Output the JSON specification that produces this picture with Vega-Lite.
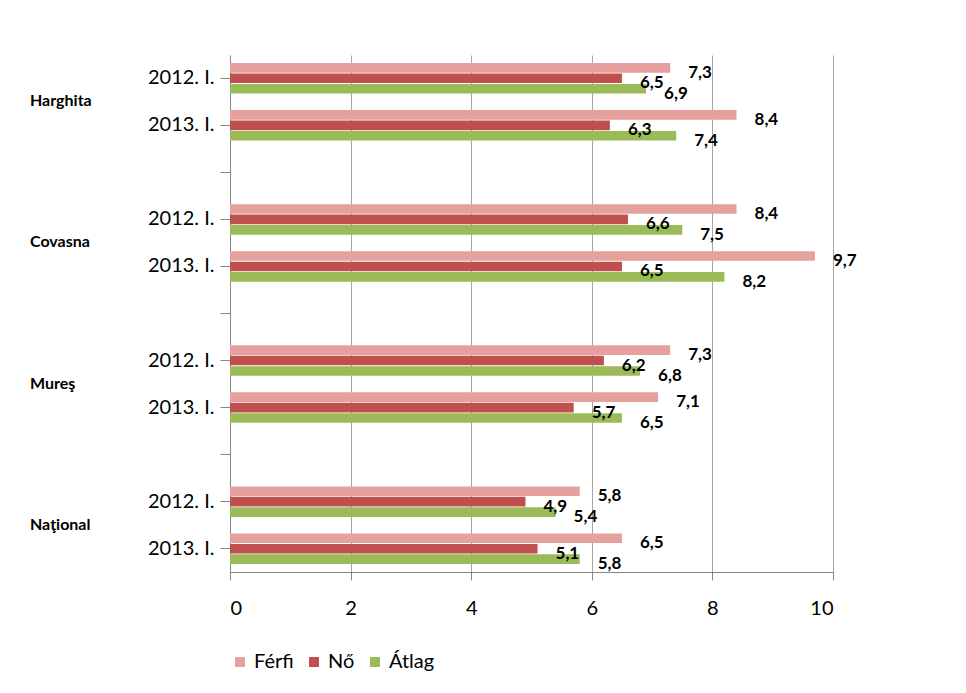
{
  "$schema": "https://vega.github.io/schema/vega-lite/v6.json",
  "autosize": "none",
  "width": 603,
  "height": 517,
  "padding": {"left": 230, "top": 55, "right": 133, "bottom": 121},
  "background": "white",
  "config": {
    "font": "Lato",
    "view": {"stroke": null},
    "locale": {"number": {"decimal": ",", "thousands": " ", "grouping": [3], "currency": ["", ""]}}
  },
  "datasets": {
    "bars": [
      {"key": "2012. I.", "series": "Férfi", "value": 7.3},
      {"key": "2012. I.", "series": "Nő", "value": 6.5},
      {"key": "2012. I.", "series": "Átlag", "value": 6.9},
      {"key": "2013. I.", "series": "Férfi", "value": 8.4},
      {"key": "2013. I.", "series": "Nő", "value": 6.3},
      {"key": "2013. I.", "series": "Átlag", "value": 7.4},
      {"key": " 2012. I.", "series": "Férfi", "value": 8.4},
      {"key": " 2012. I.", "series": "Nő", "value": 6.6},
      {"key": " 2012. I.", "series": "Átlag", "value": 7.5},
      {"key": " 2013. I.", "series": "Férfi", "value": 9.7},
      {"key": " 2013. I.", "series": "Nő", "value": 6.5},
      {"key": " 2013. I.", "series": "Átlag", "value": 8.2},
      {"key": "  2012. I.", "series": "Férfi", "value": 7.3},
      {"key": "  2012. I.", "series": "Nő", "value": 6.2},
      {"key": "  2012. I.", "series": "Átlag", "value": 6.8},
      {"key": "  2013. I.", "series": "Férfi", "value": 7.1},
      {"key": "  2013. I.", "series": "Nő", "value": 5.7},
      {"key": "  2013. I.", "series": "Átlag", "value": 6.5},
      {"key": "   2012. I.", "series": "Férfi", "value": 5.8},
      {"key": "   2012. I.", "series": "Nő", "value": 4.9},
      {"key": "   2012. I.", "series": "Átlag", "value": 5.4},
      {"key": "   2013. I.", "series": "Férfi", "value": 6.5},
      {"key": "   2013. I.", "series": "Nő", "value": 5.1},
      {"key": "   2013. I.", "series": "Átlag", "value": 5.8}
    ],
    "groups": [
      {"key": "2013. I.", "group": "Harghita"},
      {"key": " 2013. I.", "group": "Covasna"},
      {"key": "  2013. I.", "group": "Mureş"},
      {"key": "   2013. I.", "group": "Naţional"}
    ]
  },
  "layer": [
    {
      "data": {"name": "bars"},
      "mark": {"type": "bar"},
      "encoding": {
        "y": {
          "field": "key",
          "type": "nominal",
          "scale": {
            "domain": ["2012. I.", "2013. I.", " ", " 2012. I.", " 2013. I.", "  ", "  2012. I.", "  2013. I.", "   ", "   2012. I.", "   2013. I."],
            "paddingInner": 0.35,
            "paddingOuter": 0.17
          },
          "axis": {
            "title": null,
            "labelFontSize": 20,
            "labelColor": "#000000",
            "labelPadding": 6,
            "tickSize": 10,
            "tickColor": "#868686",
            "domainColor": "#868686"
          }
        },
        "x": {
          "field": "value",
          "type": "quantitative",
          "scale": {"domain": [0, 10]},
          "axis": {
            "title": null,
            "values": [0, 2, 4, 6, 8, 10],
            "format": "d",
            "labelFontSize": 20,
            "labelColor": "#000000",
            "labelPadding": 18,
            "tickSize": 8,
            "tickColor": "#868686",
            "domainColor": "#868686",
            "gridColor": "#A6A6A6",
            "gridWidth": 1
          }
        },
        "yOffset": {"field": "series", "type": "nominal", "scale": {"domain": ["Férfi", "Nő", "Átlag"], "paddingInner": 0.08}},
        "color": {
          "field": "series",
          "type": "nominal",
          "scale": {"domain": ["Férfi", "Nő", "Átlag"], "range": ["#E6A09E", "#C0504D", "#9BBB59"]},
          "legend": {"title": null, "orient": "bottom", "labelFontSize": 20, "labelColor": "#000000", "offset": 34}
        }
      }
    },
    {
      "data": {"name": "bars"},
      "mark": {"type": "text", "align": "left", "baseline": "middle", "dx": 18, "dy": 5, "fontWeight": "bold", "fontSize": 17, "color": "#000000"},
      "encoding": {
        "y": {"field": "key", "type": "nominal"},
        "x": {"field": "value", "type": "quantitative"},
        "yOffset": {"field": "series", "type": "nominal"},
        "text": {"field": "value", "type": "quantitative", "format": ".1f"}
      }
    },
    {
      "data": {"name": "groups"},
      "mark": {"type": "text", "align": "left", "baseline": "middle", "dx": -200, "dy": -24, "fontWeight": "bold", "fontSize": 16, "color": "#000000"},
      "encoding": {
        "y": {"field": "key", "type": "nominal"},
        "x": {"datum": 0, "type": "quantitative"},
        "text": {"field": "group"}
      }
    }
  ]
}
